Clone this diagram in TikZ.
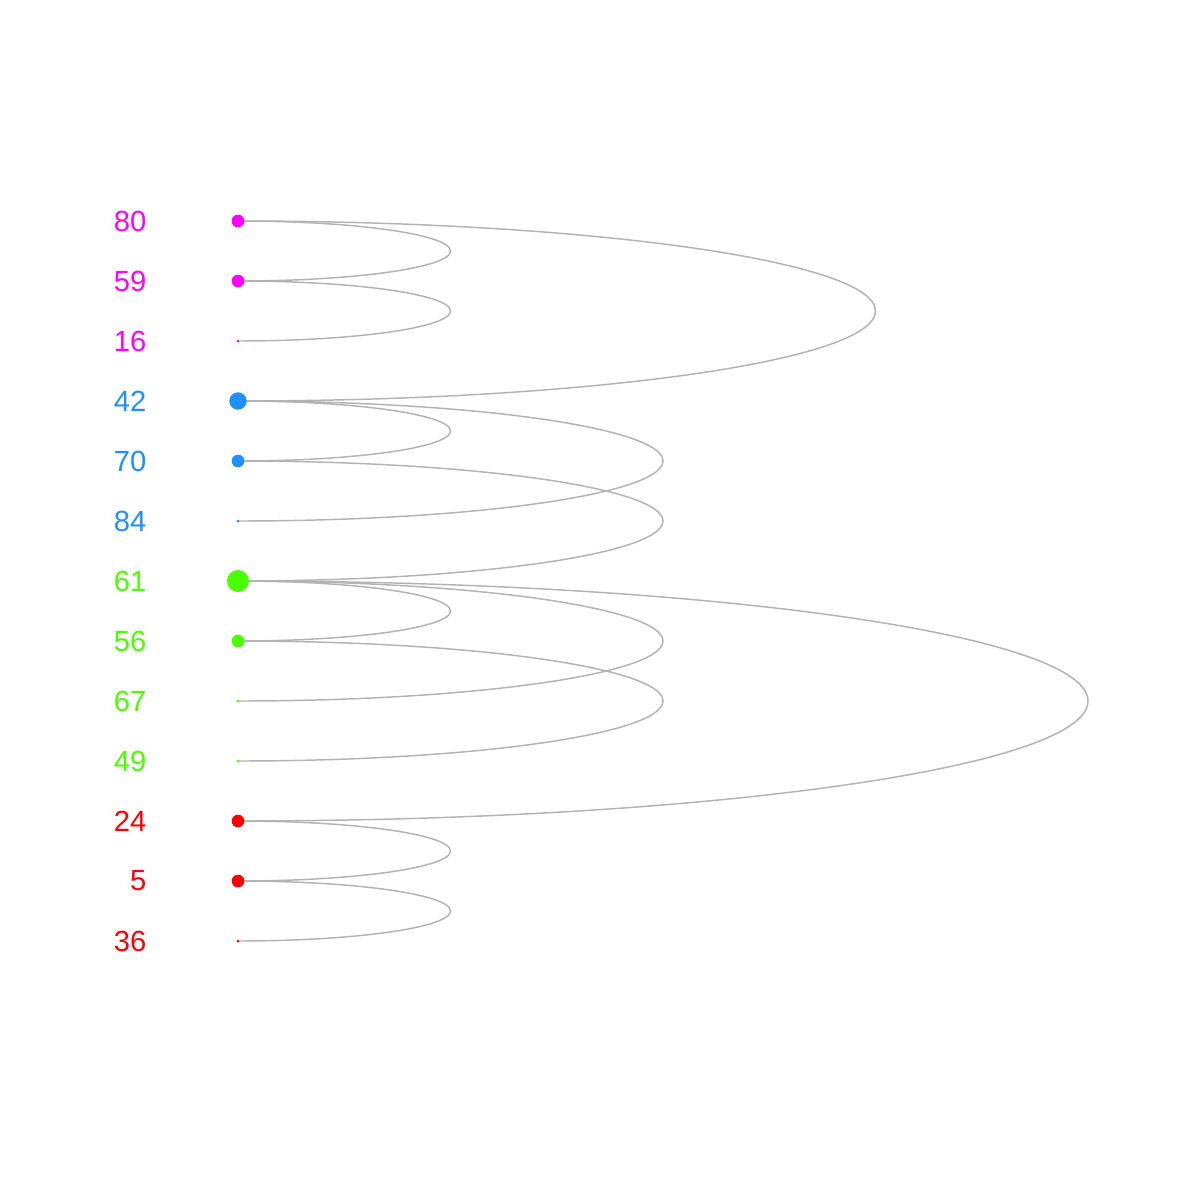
\documentclass[tikz,border=0pt]{standalone}
\usepackage{fontspec}
\setmainfont{Liberation Sans}
\definecolor{cmag}{HTML}{FF00FF}
\definecolor{cblue}{HTML}{1E90FF}
\definecolor{cgreen}{HTML}{4CFF00}
\definecolor{cred}{HTML}{FF0000}
\definecolor{arcgray}{HTML}{B3B3B3}
\tikzset{
  lab/.style={anchor=east, inner sep=0pt, font=\fontsize{8.3pt}{10pt}\selectfont},
  dot/.style={circle, inner sep=0pt, minimum size=#1},
  link/.style={draw=arcgray, line width=0.42pt},
}
\begin{document}
\begin{tikzpicture}[x=0.01cm, y=-0.01cm]
\useasboundingbox (0,0) rectangle (1200,1200);
% coordinates of nodes
\foreach \n/\r in {80/0,59/1,16/2,42/3,70/4,84/5,61/6,56/7,67/8,49/9,24/10,5/11,36/12}{
  \coordinate (c\n) at (238,{221+60*\r});
}
% arcs (top node, span)
\draw[link] (c80) arc[start angle=-90, end angle=90, x radius=212.5, y radius=30];
\draw[link] (c59) arc[start angle=-90, end angle=90, x radius=212.5, y radius=30];
\draw[link] (c80) arc[start angle=-90, end angle=90, x radius=637.5, y radius=90];
\draw[link] (c42) arc[start angle=-90, end angle=90, x radius=212.5, y radius=30];
\draw[link] (c42) arc[start angle=-90, end angle=90, x radius=425, y radius=60];
\draw[link] (c70) arc[start angle=-90, end angle=90, x radius=425, y radius=60];
\draw[link] (c61) arc[start angle=-90, end angle=90, x radius=212.5, y radius=30];
\draw[link] (c61) arc[start angle=-90, end angle=90, x radius=425, y radius=60];
\draw[link] (c56) arc[start angle=-90, end angle=90, x radius=425, y radius=60];
\draw[link] (c61) arc[start angle=-90, end angle=90, x radius=850, y radius=120];
\draw[link] (c24) arc[start angle=-90, end angle=90, x radius=212.5, y radius=30];
\draw[link] (c5) arc[start angle=-90, end angle=90, x radius=212.5, y radius=30];
% dots and labels
\foreach \n/\col/\s in {80/cmag/12.6,59/cmag/12.6,16/cmag/3,42/cblue/17.4,70/cblue/12.6,84/cblue/3,61/cgreen/22,56/cgreen/12.6,67/cgreen/3,49/cgreen/3,24/cred/12.6,5/cred/12.6,36/cred/3}{
  \node[dot=\s*0.01cm, fill=\col] (d\n) at (c\n) {};
  \node[lab, text=\col] (l\n) at ([xshift=-91*0.01cm]c\n) {\n};
}
\end{tikzpicture}
\end{document}
